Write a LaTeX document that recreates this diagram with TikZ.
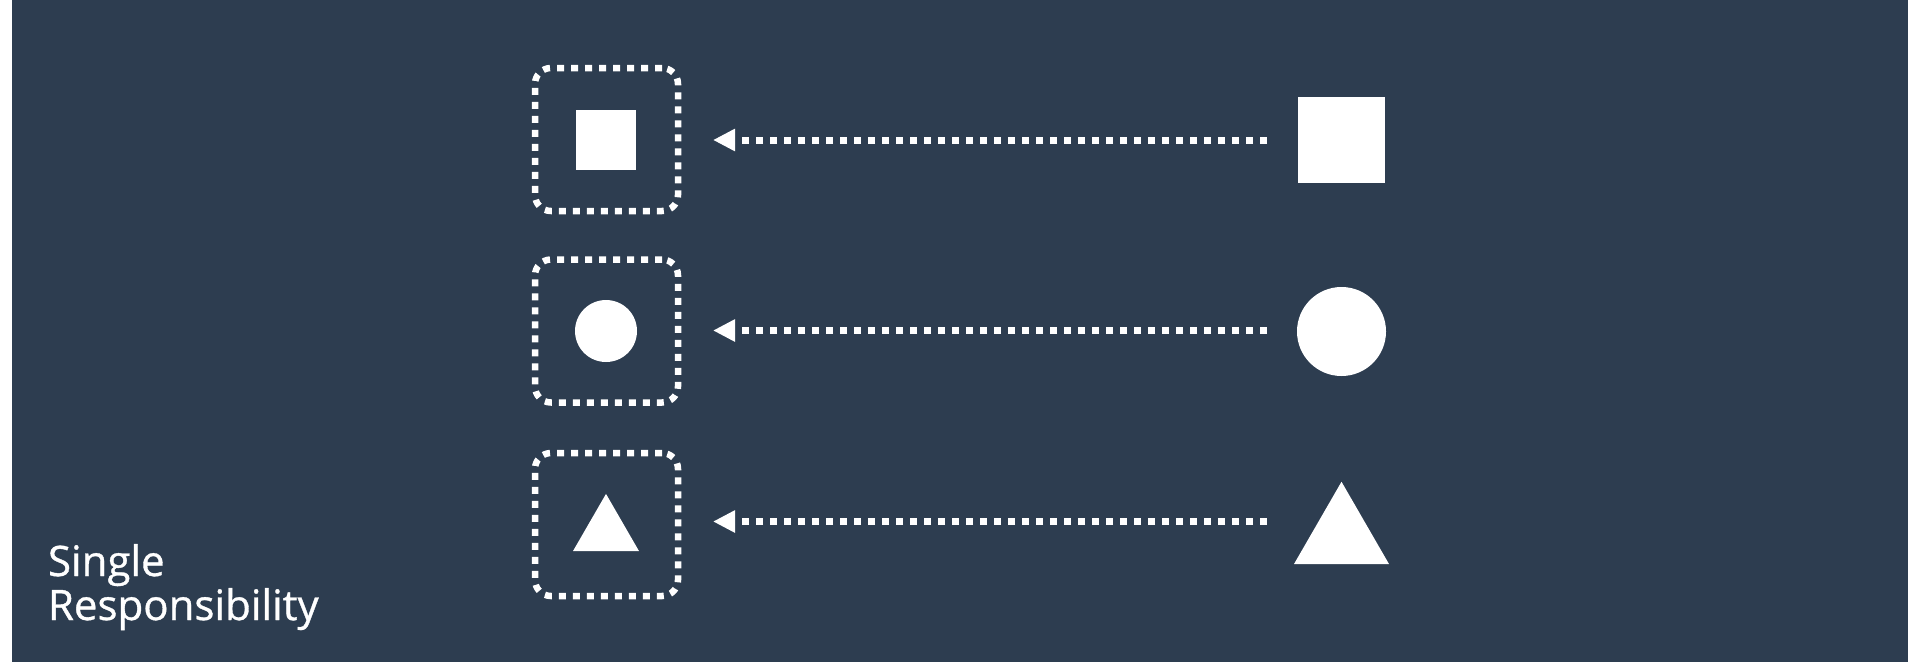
\documentclass[tikz,border=0pt]{standalone}
\usepackage{fontspec}
\setmainfont{Open Sans}
\newfontface\titleface{Open Sans}[FakeBold=0.8]
\usetikzlibrary{arrows.meta,shapes.geometric}
\definecolor{bg}{HTML}{2D3D50}
\begin{document}
\begin{tikzpicture}[x=1pt,y=-1pt,
  shapefill/.style={fill=white,draw=none,inner sep=0pt,outer sep=0pt},
  dotbox/.style={draw=white,line width=6.5pt,dash pattern=on 7pt off 7pt,rounded corners=16pt,minimum width=143pt,minimum height=143pt,inner sep=0pt,outer sep=0pt},
  conn/.style={draw=white,line width=7pt,dash pattern=on 7pt off 7pt,-{Triangle[length=22pt,width=21pt]}},
  titletext/.style={text=white,font=\titleface\fontsize{42}{44}\selectfont,align=left,inner sep=0pt,outer sep=0pt}
]
\useasboundingbox (0,0) rectangle (1920,662);
\fill[white] (0,0) rectangle (1920,662);
\fill[bg] (12,0) rectangle (1908,662);

% dotted boxes
\node[dotbox] (box1) at (606.5,139.5) {};
\node[dotbox] (box2) at (606.5,331) {};
\node[dotbox] (box3) at (606.5,524.5) {};

% small shapes
\node[shapefill,minimum width=60pt,minimum height=60pt] (sq1) at (606,140) {};
\node[shapefill,circle,minimum size=62pt] (ci1) at (606,331) {};
\node[shapefill,regular polygon,regular polygon sides=3,minimum size=76.2pt] (tr1) at (606,532) {};

% large shapes
\node[shapefill,minimum width=87pt,minimum height=86pt] (sq2) at (1341.5,140) {};
\node[shapefill,circle,minimum size=89pt] (ci2) at (1341.5,331.5) {};
\node[shapefill,regular polygon,regular polygon sides=3,minimum size=109.7pt] (tr2) at (1341.5,536.6) {};

% connector end points
\coordinate (s1) at (1267,140);
\coordinate (e1) at (713,140);
\coordinate (s2) at (1267,330.5);
\coordinate (e2) at (713,330.5);
\coordinate (s3) at (1267,521.5);
\coordinate (e3) at (713,521.5);

\draw[conn] (s1) -- (e1);
\draw[conn] (s2) -- (e2);
\draw[conn] (s3) -- (e3);

\node[titletext,anchor=base west] (title) at (48,620) {Single\\Responsibility};
\end{tikzpicture}
\end{document}
